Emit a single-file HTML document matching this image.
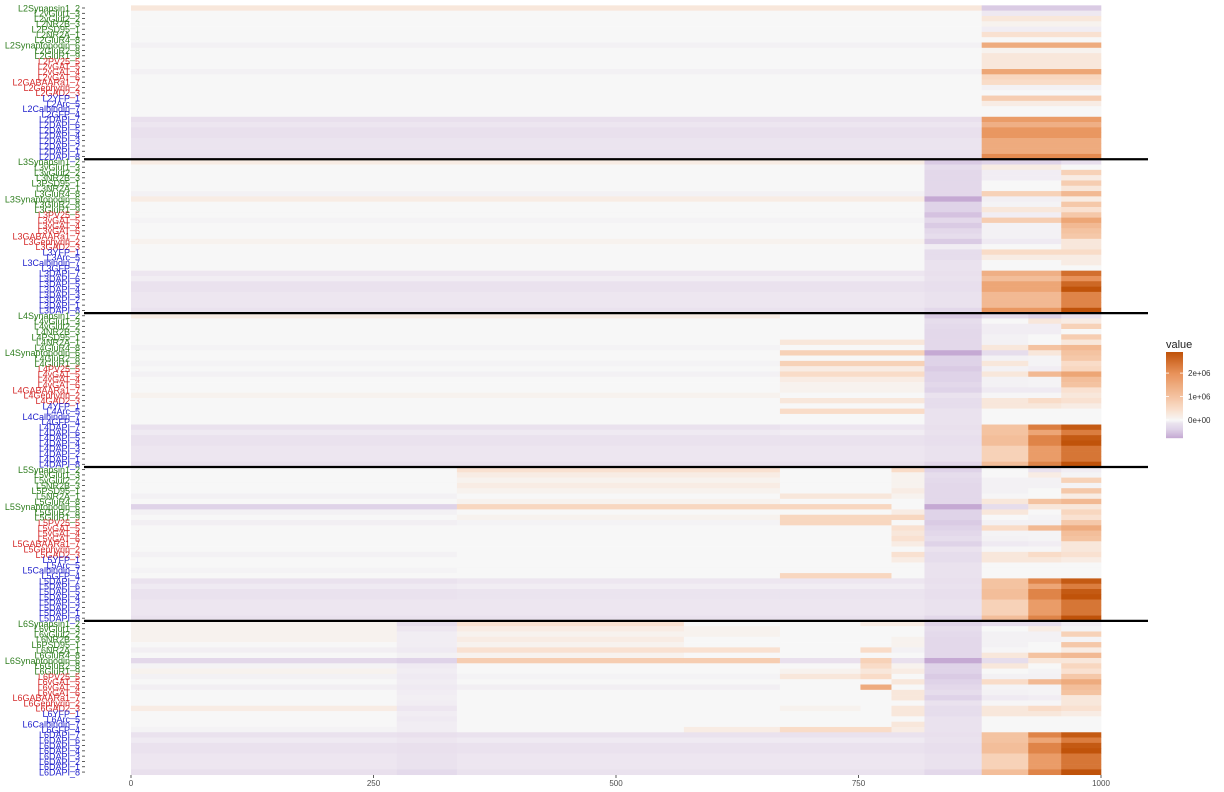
<!DOCTYPE html>
<html><head><meta charset="utf-8">
<style>
body{margin:0;background:#fff;}
svg{display:block;font-family:"Liberation Sans",sans-serif;}
</style></head>
<body>
<svg id="chart" width="1224" height="792" viewBox="0 0 1224 792">
<g id="cells"></g>
<g id="ylabels"></g>
<g id="xaxis"></g>
<g id="hlines"></g>
<g id="legend"></g>
</svg>
<script>
const layers = ["L2","L3","L4","L5","L6"];
const markers = ["Synapsin1_2","vGlut1_3","vGlut2_2","NR2B_3","PSD95_1","NR2A_1","GluR4_8","Synaptopodin_6","GluR2_8","GluR1_9","PV25_5","vGAT_5","vGAT_4","vGAT_6","GABAARa1_7","Gephyrin_2","GAD2_3","YFP_1","Arc_5","Calbindin_7","GFP_4","DAPI_7","DAPI_6","DAPI_5","DAPI_4","DAPI_3","DAPI_2","DAPI_1","DAPI_8"];
const markerGroup = ["g","g","g","g","g","g","g","g","g","g","r","r","r","r","r","r","r","b","b","b","b","b","b","b","b","b","b","b","b"];
const xTicks = [0,250,500,750,1000];
const legendTicks = [0,1000000,2000000];
const legendTickLabels = ["0e+00","1e+06","2e+06"];
// column boundaries (x data units) per layer
const colsL2 = [0,877,1000];
const colsL3 = [0,818,877,959,1000];
const colsL4 = [0,669,818,877,925,959,1000];
const colsL5 = [0,336,669,784,818,877,925,959,1000];
const colsL6 = [0,274,336,570,669,752,784,818,877,925,959,1000];
// values in units of 1e5
const valsL2 = [[3,-30],[0,-7],[0,3],[0,1],[0,-5],[0,4],[0,0],[-3,15],[0,1],[0,3],[0,3],[0,3],[-3,16],[0,6],[0,5],[0,-3],[0,0],[0,8],[0,2],[0,0],[0,0],[-12,18],[-8,14],[-12,19],[-12,19],[-9,15],[-9,15],[-9,15],[-10,21]];
const valsL3 = [[2,-30,-25,-13],[0,-15,2,0],[0,-20,-5,7],[0,-20,-5,2],[0,-20,0,8],[0,-20,0,3],[-3,-20,7,12],[2,-50,-4,2],[0,-25,-2,9],[0,-25,3,4],[0,-35,-5,9],[-2,-20,8,16],[0,-30,-3,12],[0,-20,-3,10],[0,-15,-3,9],[1,-30,-6,3],[0,-5,0,3],[0,-15,5,5],[0,-15,2,2],[0,-10,0,2],[0,-10,0,0],[-8,-12,14,25],[-5,-10,11,20],[-10,-13,16,26],[-10,-13,16,29],[-8,-10,12,22],[-8,-10,12,22],[-8,-10,12,22],[-10,-20,19,30]];
const valsL4 = [[2,0,-30,-15,-25,-10],[0,0,-15,0,3,2],[0,0,-18,-5,-5,7],[0,0,-20,-5,-5,0],[0,0,-20,-3,0,8],[0,3,-20,-3,0,3],[-2,0,-20,3,10,12],[0,7,-50,-15,3,10],[0,0,-25,-3,-2,9],[-2,7,-25,3,-2,5],[0,2,-30,-3,-5,6],[-3,5,-25,3,12,16],[0,2,-25,-3,-2,11],[0,1,-20,-3,-2,10],[0,1,-25,-6,-6,4],[1,0,-10,-1,-1,3],[0,3,-15,3,5,4],[0,0,-15,3,3,2],[0,5,-10,0,0,0],[0,0,-10,0,0,0],[0,0,-10,0,0,0],[-10,-8,-12,10,23,28],[-6,-5,-10,10,16,23],[-10,-10,-13,11,22,28],[-10,-10,-13,11,22,29],[-8,-8,-10,7,18,24],[-8,-8,-10,7,18,24],[-8,-8,-10,7,18,24],[-10,-10,-20,11,22,30]];
const valsL5 = [[0,4,0,5,-25,0,-10,-5],[0,2,0,1,-15,0,2,-2],[0,1,0,1,-18,-3,-3,7],[0,2,0,1,-20,-3,-3,-2],[0,1,0,2,-20,-3,0,9],[-3,0,3,1,-20,-1,0,2],[0,1,0,0,-20,3,10,12],[-25,6,6,0,-50,-15,3,3],[-3,0,0,2,-25,3,0,6],[0,1,6,6,-25,0,-2,4],[-4,-2,6,0,-30,-3,-3,9],[0,0,0,4,-25,5,12,15],[0,0,0,3,-20,-2,-2,11],[0,0,0,4,-15,-3,-2,10],[0,0,0,2,-25,-6,-5,3],[0,0,0,0,-10,-1,-1,3],[-3,0,0,4,-15,3,5,4],[0,0,0,2,-15,3,3,2],[0,0,0,0,-10,0,0,0],[-2,0,0,0,-10,0,0,0],[0,0,6,0,-10,0,0,0],[-10,-8,-8,-8,-12,10,22,28],[-6,-5,-5,-5,-10,10,16,23],[-10,-9,-9,-9,-13,11,22,28],[-10,-9,-9,-9,-13,11,22,29],[-8,-8,-8,-8,-10,7,18,24],[-8,-8,-8,-8,-10,7,18,24],[-8,-8,-8,-8,-10,7,18,24],[-10,-10,-10,-10,-20,11,22,30]];
const valsL6 = [[1,-15,4,0,0,2,2,-25,-15,-15,-5],[1,-8,2,1,0,0,0,-15,0,2,-2],[1,-5,1,1,0,0,0,-18,-3,-3,7],[1,-5,2,0,0,0,1,-20,-3,-3,-2],[0,-5,1,0,0,0,1,-20,-3,0,9],[-4,-6,4,4,0,5,-3,-20,-1,0,2],[0,-3,1,0,0,0,0,-20,3,10,12],[-20,-25,8,8,-12,7,-12,-50,-15,3,3],[-2,-6,0,0,0,5,1,-25,3,0,6],[1,-5,0,0,1,3,2,-25,0,-2,4],[-3,-6,-2,-2,3,5,0,-30,-3,-3,9],[0,-5,0,0,0,0,3,-25,5,12,15],[-4,-6,-4,-4,0,15,0,-20,-2,-2,11],[0,-5,0,0,0,0,3,-15,-3,-2,10],[0,-4,0,0,0,0,3,-25,-6,-5,3],[0,-5,0,0,0,0,0,-10,-1,-1,3],[2,-8,0,0,1,0,3,-15,3,5,4],[0,-5,0,0,0,0,3,-15,3,3,2],[0,-6,0,0,0,0,0,-10,0,0,0],[0,-5,0,0,0,0,3,-10,0,0,0],[-2,-5,0,2,5,5,2,-10,0,0,0],[-10,-12,-10,-10,-10,-10,-10,-12,10,22,28],[-6,-8,-6,-6,-6,-6,-6,-10,10,16,23],[-10,-12,-10,-10,-10,-10,-10,-13,11,22,28],[-10,-12,-10,-10,-10,-10,-10,-13,11,22,29],[-8,-10,-8,-8,-8,-8,-8,-10,7,18,24],[-8,-10,-8,-8,-8,-8,-8,-10,7,18,24],[-8,-10,-8,-8,-8,-8,-8,-10,7,18,24],[-12,-18,-10,-10,-10,-10,-10,-20,11,22,30]];

const layerCols = [colsL2,colsL3,colsL4,colsL5,colsL6];
const layerVals = [valsL2,valsL3,valsL4,valsL5,valsL6];
const NS = "http://www.w3.org/2000/svg";
const X0 = 131, XS = 0.97, Y0 = 8, RH = 5.306;
function xs(v){return X0 + v*XS;}
function yc(k){return Y0 + k*RH;}
function hex(c){return [parseInt(c.substr(1,2),16),parseInt(c.substr(3,2),16),parseInt(c.substr(5,2),16)];}
const posStops = [[0,"#f7f7f7"],[5,"#f9dcc8"],[10,"#f4c3a1"],[20,"#e8925a"],[29,"#c0530a"],[40,"#b04a05"]];
const negStops = [[0,"#f7f7f7"],[10,"#eae2ee"],[25,"#dfd3e8"],[50,"#c5a9d3"],[80,"#b898cb"]];
function color(v){
  const stops = v>=0?posStops:negStops; const a = Math.abs(v);
  for(let i=0;i<stops.length-1;i++){
    if(a<=stops[i+1][0]){const t=(a-stops[i][0])/(stops[i+1][0]-stops[i][0]);
      const c1=hex(stops[i][1]),c2=hex(stops[i+1][1]);
      return "rgb("+c1.map((c,j)=>Math.round(c+(c2[j]-c)*t)).join(",")+")";}
  }
  return stops[stops.length-1][1];
}
function mk(tag,attrs,parent){const e=document.createElementNS(NS,tag);for(const k in attrs)e.setAttribute(k,attrs[k]);parent.appendChild(e);return e;}
const cells=document.getElementById("cells"), yl=document.getElementById("ylabels");
const gcol={g:"#2e7d1e",r:"#d42a2a",b:"#2222cc"};
layers.forEach((L,li)=>{
  const cols=layerCols[li], vals=layerVals[li];
  markers.forEach((m,mi)=>{
    const k=li*markers.length+mi; const top=yc(k)-RH/2;
    for(let c=0;c<cols.length-1;c++){
      const r=mk("rect",{x:xs(cols[c]).toFixed(2),y:top.toFixed(2),width:(xs(cols[c+1])-xs(cols[c])+0.3).toFixed(2),height:(RH+0.3).toFixed(2),fill:color(vals[mi][c])},cells);
      
      
    }
    const t=mk("text",{x:80,y:(yc(k)+3.3).toFixed(2),"text-anchor":"end","font-size":"9",fill:gcol[markerGroup[mi]]},yl);
    t.textContent=L+m;
    
    
    const tk=mk("line",{x1:82,x2:85,y1:yc(k).toFixed(2),y2:yc(k).toFixed(2),stroke:"#333","stroke-width":"0.8"},yl);
    
    
  });
});
const xa=document.getElementById("xaxis");
xTicks.forEach(v=>{
  const l=mk("line",{x1:xs(v),x2:xs(v),y1:775,y2:778,stroke:"#333","stroke-width":"0.8"},xa);
  
  
  const t=mk("text",{x:xs(v),y:786,"text-anchor":"middle","font-size":"8",fill:"#4d4d4d"},xa);
  t.textContent=v;
  
  
});
const hl=document.getElementById("hlines");
for(let li=1;li<layers.length;li++){
  const y=yc(li*markers.length)-RH/2;
  const l=mk("line",{x1:84,x2:1148,y1:y.toFixed(2),y2:y.toFixed(2),stroke:"#000","stroke-width":"2.2"},hl);
  
  
}
// legend
const lg=document.getElementById("legend");
const LT=352, LB=438, LMIN=-7.7, LMAX=29;
function ly(v){return LB-(v-LMIN)/(LMAX-LMIN)*(LB-LT);}
function legColor(v){return v<0?color(v*6.5):color(v);}
const title=mk("text",{x:1166,y:348,"font-size":"11",fill:"#222"},lg);
title.textContent="value";


for(let i=0;i<86;i++){
  const v=LMIN+(i+0.5)/86*(LMAX-LMIN);
  const r=mk("rect",{x:1166,y:(LB-(i+1)).toFixed(2),width:17,height:1.2,fill:legColor(v)},lg);
  
  
}
legendTicks.forEach((v,i)=>{
  const y=ly(v/1e5);
  const a=mk("line",{x1:1166,x2:1169,y1:y,y2:y,stroke:"#fff","stroke-width":"0.8"},lg);
  
  
  const b=mk("line",{x1:1180,x2:1183,y1:y,y2:y,stroke:"#fff","stroke-width":"0.8"},lg);
  
  
  const t=mk("text",{x:1188,y:y+3,"font-size":"8",fill:"#333"},lg);
  t.textContent=legendTickLabels[i];
  
  
});
</script>
</body></html>
